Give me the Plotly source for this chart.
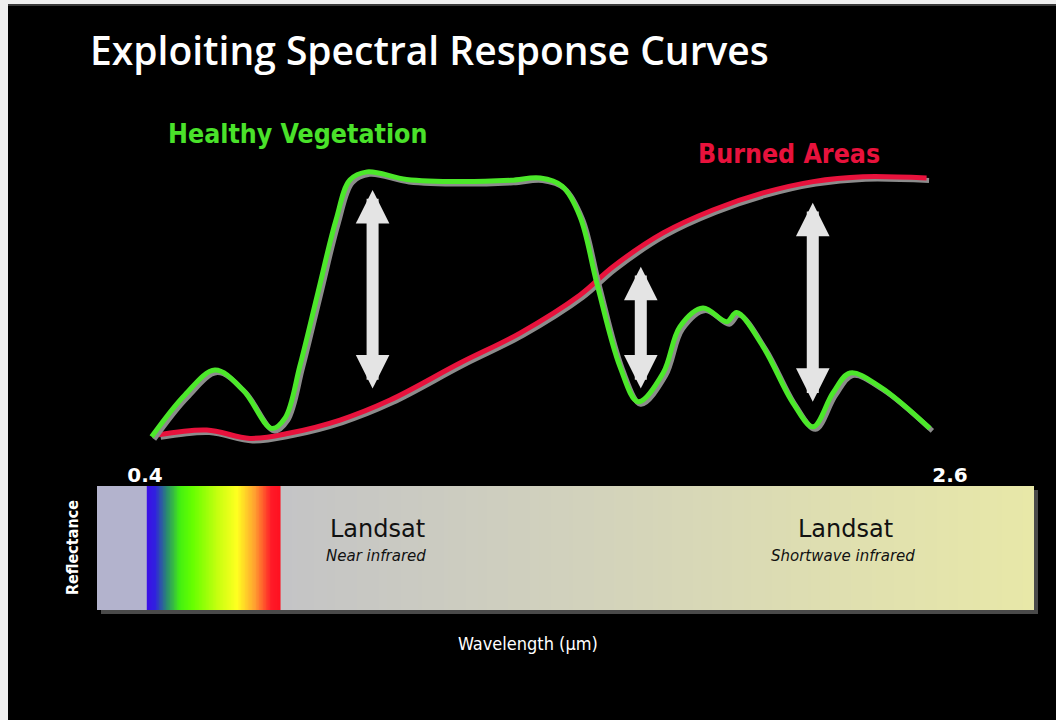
import numpy as np
import plotly.graph_objects as go

W, H = 1056, 720

# ---------------- data ----------------
veg_wl = [0.418, 0.509, 0.591, 0.668, 0.746, 0.783, 0.824, 0.873, 0.922, 0.960,
          1.007, 1.115, 1.261, 1.400, 1.480, 1.540, 1.589, 1.635, 1.698, 1.748,
          1.816, 1.862, 1.925, 1.990, 2.017, 2.089, 2.171, 2.226, 2.280, 2.327,
          2.409, 2.545]
veg_refl = [0.012, 0.167, 0.259, 0.185, 0.043, 0.082, 0.278, 0.548, 0.815, 0.963,
            0.993, 0.965, 0.957, 0.962, 0.970, 0.940, 0.827, 0.580, 0.272, 0.142,
            0.248, 0.420, 0.489, 0.438, 0.472, 0.346, 0.137, 0.049, 0.174, 0.248,
            0.197, 0.043]

burn_wl = [0.436, 0.569, 0.687, 0.796, 0.933, 1.070, 1.261, 1.425, 1.589, 1.679,
           1.816, 1.952, 2.089, 2.226, 2.362, 2.536]
burn_refl = [0.019, 0.037, 0.006, 0.026, 0.074, 0.148, 0.285, 0.396, 0.537, 0.642,
             0.767, 0.852, 0.915, 0.957, 0.975, 0.970]

arrow_wl = [1.022, 1.755, 2.225]
arrow_top = [0.926, 0.642, 0.879]
arrow_bottom = [0.185, 0.185, 0.136]

tick_vals = [0.4, 2.6]
tick_text = ["0.4", "2.6"]

spectrum_wl = [0.2688, 0.4040, 0.4055, 0.4273, 0.4600, 0.4957, 0.5300, 0.6000,
               0.6514, 0.7000, 0.7450, 0.7700, 0.7730, 1.6000, 2.3000, 2.8296]
spectrum_colors = ["#b3b3cd", "#b3b3cd", "#3a10e6", "#3020e0", "#2a8a70", "#44f010",
                   "#66ff00", "#c8ff10", "#ffff20", "#ffa030", "#ff1a28", "#ff1020",
                   "#c4c4c6", "#d2d2bc", "#dfdfb0", "#e8e8a8"]

# ---------------- pixel <-> axis helpers (layout only) ----------------
PX0, SX = 145.0, 365.9      # px of 0.4 µm, px per µm
PY0, SY = 440.0, 270.0      # px of zero reflectance, px per unit


def wl_of(px):
    return 0.4 + (px - PX0) / SX


def rf_of(py):
    return (PY0 - py) / SY


xr = [wl_of(0), wl_of(W)]
yr = [rf_of(H), rf_of(0)]

fig = go.Figure()

# spectral bar (heatmap with gradient colorscale)
bar_l, bar_r = wl_of(97), wl_of(1034)
bar_t, bar_b = rf_of(486), rf_of(610)
edges = np.linspace(bar_l, bar_r, 1201)
centers = (edges[:-1] + edges[1:]) / 2
span = spectrum_wl[-1] - spectrum_wl[0]
cscale = [[(w - spectrum_wl[0]) / span, c] for w, c in zip(spectrum_wl, spectrum_colors)]
cscale[-1][0] = 1.0
fig.add_trace(go.Heatmap(
    x=edges, y=[bar_b, bar_t], z=[centers.tolist()],
    colorscale=cscale, zmin=spectrum_wl[0], zmax=spectrum_wl[-1],
    showscale=False, hoverinfo="skip"))

# curves with grey drop shadows
dx, dy = 2.5 / SX, -2.5 / SY
for wl, rf, col in [(burn_wl, burn_refl, "#e8123c"), (veg_wl, veg_refl, "#4ce82a")]:
    fig.add_trace(go.Scatter(
        x=[v + dx for v in wl], y=[v + dy for v in rf], mode="lines",
        line=dict(color="#8c8c8c", width=5, shape="spline", smoothing=1.0),
        hoverinfo="skip", showlegend=False))
    fig.add_trace(go.Scatter(
        x=wl, y=rf, mode="lines",
        line=dict(color=col, width=5, shape="spline", smoothing=1.0),
        showlegend=False))

annotations = []
# double-headed arrows
for xw, yt, yb in zip(arrow_wl, arrow_top, arrow_bottom):
    annotations.append(dict(
        x=xw, y=yt, ax=xw, ay=yb, xref="x", yref="y", axref="x", ayref="y",
        text="", showarrow=True, arrowside="end+start",
        arrowhead=2, startarrowhead=2, arrowsize=0.56, startarrowsize=0.56,
        arrowwidth=12, arrowcolor="#e4e4e4", standoff=0, startstandoff=0))


def txt(text, px, py, size, color, family="DejaVu Sans", xanchor="center",
        yanchor="middle", angle=0, weight="normal"):
    annotations.append(dict(
        text=text, x=px / W, y=1 - py / H, xref="paper", yref="paper",
        xanchor=xanchor, yanchor=yanchor, showarrow=False, textangle=angle,
        font=dict(size=size, color=color, family=family, weight=weight)))


txt("Exploiting Spectral Response Curves", 88, 50, 39, "#ffffff",
    family="Open Sans", xanchor="left", weight=600)
txt("Healthy Vegetation", 166, 133, 26.5, "#4ae22a", family="DejaVu Sans Condensed",
    xanchor="left", weight="bold")
txt("Burned Areas", 696, 153, 26.5, "#e8123c", family="DejaVu Sans Condensed",
    xanchor="left", weight="bold")
txt("Landsat", 377, 529, 24, "#111111")
txt("<i>Near infrared</i>", 376, 556, 15, "#111111")
txt("Landsat", 845, 529, 24, "#111111")
txt("<i>Shortwave infrared</i>", 843, 556, 15, "#111111")
txt("Reflectance", 72, 548, 16, "#ffffff", family="DejaVu Sans Condensed", angle=-90,
    weight="bold")
txt("Wavelength (µm)", 528, 643, 18, "#ffffff", family="DejaVu Sans Condensed")

shapes = [
    # bar shadow
    dict(type="rect", xref="x", yref="y", layer="below",
         x0=bar_l + 4 / SX, x1=bar_r + 4 / SX, y0=bar_b - 4 / SY, y1=bar_t - 4 / SY,
         fillcolor="#4a4a4a", line=dict(width=0)),
    # slide border strips
    dict(type="rect", xref="paper", yref="paper", x0=0, x1=1, y0=1 - 4 / H, y1=1,
         fillcolor="#efefef", line=dict(width=0), layer="above"),
    dict(type="rect", xref="paper", yref="paper", x0=0, x1=8 / W, y0=0, y1=1,
         fillcolor="#efefef", line=dict(width=0), layer="above"),
    dict(type="rect", xref="paper", yref="paper", x0=8 / W, x1=1, y0=1 - 6 / H,
         y1=1 - 4 / H, fillcolor="#3a3a3a", line=dict(width=0), layer="above"),
]

fig.update_layout(
    width=W, height=H,
    margin=dict(l=0, r=0, t=0, b=0),
    paper_bgcolor="#000000", plot_bgcolor="#000000",
    showlegend=False,
    annotations=annotations, shapes=shapes,
    xaxis=dict(range=xr, domain=[0, 1], side="top", anchor="free",
               position=1 - 486 / H, showgrid=False, zeroline=False, showline=False,
               ticks="", tickvals=tick_vals, ticktext=tick_text,
               tickfont=dict(family="DejaVu Sans", size=20, color="#ffffff",
                             weight="bold"),
               fixedrange=True),
    yaxis=dict(range=yr, domain=[0, 1], showgrid=False, zeroline=False,
               showline=False, showticklabels=False, ticks="", fixedrange=True),
)

fig.write_html("out.html", config={"displayModeBar": False},
               post_script="document.body.style.margin='0';"
               "document.body.style.background='#000';")
